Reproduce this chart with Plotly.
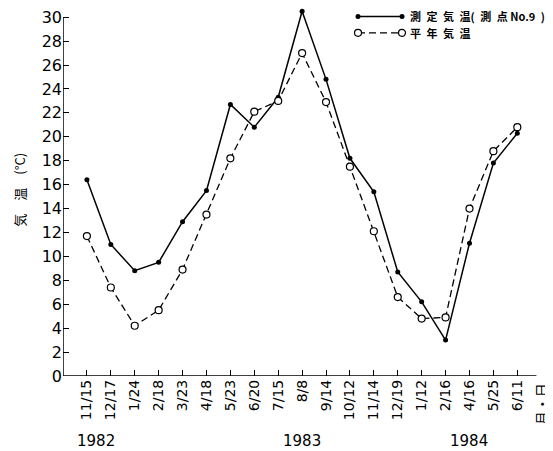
import plotly.graph_objects as go

dates = ["11/15", "12/17", "1/24", "2/18", "3/23", "4/18", "5/23", "6/20", "7/15", "8/8",
         "9/14", "10/12", "11/14", "12/19", "1/12", "2/16", "4/16", "5/25", "6/11"]
measured = [16.4, 11.0, 8.8, 9.5, 12.9, 15.5, 22.7, 20.8, 23.3, 30.5,
            24.8, 18.2, 15.4, 8.7, 6.2, 3.0, 11.1, 17.8, 20.3]
normal = [11.7, 7.4, 4.2, 5.5, 8.9, 13.5, 18.2, 22.1, 23.0, 27.0,
          22.9, 17.5, 12.1, 6.6, 4.8, 4.9, 14.0, 18.8, 20.8]
years = [("1982", 0.4), ("1983", 9), ("1984", 16)]
y_ticks = list(range(0, 31, 2))

S = "\u2002"
name_measured = "測" + S + "定" + S + "気" + S + "温(" + S + "測" + S + "点 No.9" + S + ")"
name_normal = "平" + S + "年" + S + "気" + S + "温"

idx = list(range(len(dates)))
num_font = "DejaVu Sans"
cjk_font = "Noto Sans CJK JP"

fig = go.Figure()
fig.add_trace(go.Scatter(
    x=idx, y=measured, name=name_measured, mode="lines+markers",
    line=dict(color="black", width=1.5),
    marker=dict(symbol="circle", size=5, color="black"),
    cliponaxis=False, showlegend=False,
))
fig.add_trace(go.Scatter(
    x=idx, y=normal, name=name_normal, mode="lines+markers",
    line=dict(color="black", width=1.3, dash="7px,4px"),
    marker=dict(symbol="circle", size=7, color="white", line=dict(color="black", width=1.2)),
    cliponaxis=False, showlegend=False,
))

# axis lines
fig.add_shape(type="line", xref="x", yref="y", x0=-1, x1=-1, y0=0, y1=30,
              line=dict(color="black", width=1.5))
fig.add_shape(type="line", xref="x", yref="y", x0=-1, x1=18.8, y0=0, y1=0,
              line=dict(color="black", width=1.5))

# legend (drawn manually)
lx0, lx1 = 0.6108, 0.7019
ly = [0.9824, 0.9376]
fig.add_shape(type="line", xref="paper", yref="paper", x0=lx0, x1=lx1, y0=ly[0], y1=ly[0],
              line=dict(color="black", width=1.5))
fig.add_shape(type="line", xref="paper", yref="paper", x0=lx0, x1=lx1, y0=ly[1], y1=ly[1],
              line=dict(color="black", width=1.3, dash="7px,4px"))
for xe in (lx0, lx1):
    fig.add_shape(type="circle", xref="paper", yref="paper", xsizemode="pixel", ysizemode="pixel",
                  xanchor=xe, yanchor=ly[0], x0=-2.5, x1=2.5, y0=-2.5, y1=2.5,
                  fillcolor="black", line=dict(color="black", width=0))
    fig.add_shape(type="circle", xref="paper", yref="paper", xsizemode="pixel", ysizemode="pixel",
                  xanchor=xe, yanchor=ly[1], x0=-3.5, x1=3.5, y0=-3.5, y1=3.5,
                  fillcolor="white", line=dict(color="black", width=1.2))

annotations = []
for name, yy in ((name_measured, ly[0]), (name_normal, ly[1])):
    annotations.append(dict(
        x=0.7143, xref="paper", y=yy, yref="paper", text=name, showarrow=False,
        font=dict(family=cjk_font, size=11, color="black", weight="bold"),
        xanchor="left", yanchor="middle"))
for label, pos in years:
    annotations.append(dict(
        x=pos, xref="x", y=0, yref="paper", yshift=-65, text=label, showarrow=False,
        font=dict(family=num_font, size=15, color="black"), xanchor="center", yanchor="middle"))
annotations.append(dict(
    x=19, xref="x", y=0, yref="paper", yshift=-5, text="月・日", showarrow=False,
    textangle=-90, font=dict(family=cjk_font, size=14, color="black"),
    xanchor="center", yanchor="top"))
annotations.append(dict(
    x=0, xref="paper", xshift=-43, y=0.509, yref="paper", text="気　温　(°C)", showarrow=False,
    textangle=-90, font=dict(family=cjk_font, size=13, color="black"),
    xanchor="center", yanchor="middle"))

fig.update_layout(
    width=553, height=451,
    margin=dict(l=55, r=15, t=0, b=82.5),
    paper_bgcolor="white", plot_bgcolor="white",
    showlegend=False,
    annotations=annotations,
    xaxis=dict(
        range=[-1, 19.2], tickmode="array", tickvals=idx, ticktext=dates,
        tickangle=-90, ticks="inside", ticklen=6, tickwidth=1, tickcolor="black",
        showgrid=False, zeroline=False, showline=False,
        tickfont=dict(family=num_font, size=14, color="black"),
    ),
    yaxis=dict(
        range=[0, 30.6], tickmode="array", tickvals=y_ticks,
        ticks="inside", ticklen=6, tickwidth=1, tickcolor="black",
        showgrid=False, zeroline=False, showline=False, ticklabeloverflow="allow",
        tickfont=dict(family=num_font, size=16, color="black"),
    ),
)

fig.write_html("out.html")
